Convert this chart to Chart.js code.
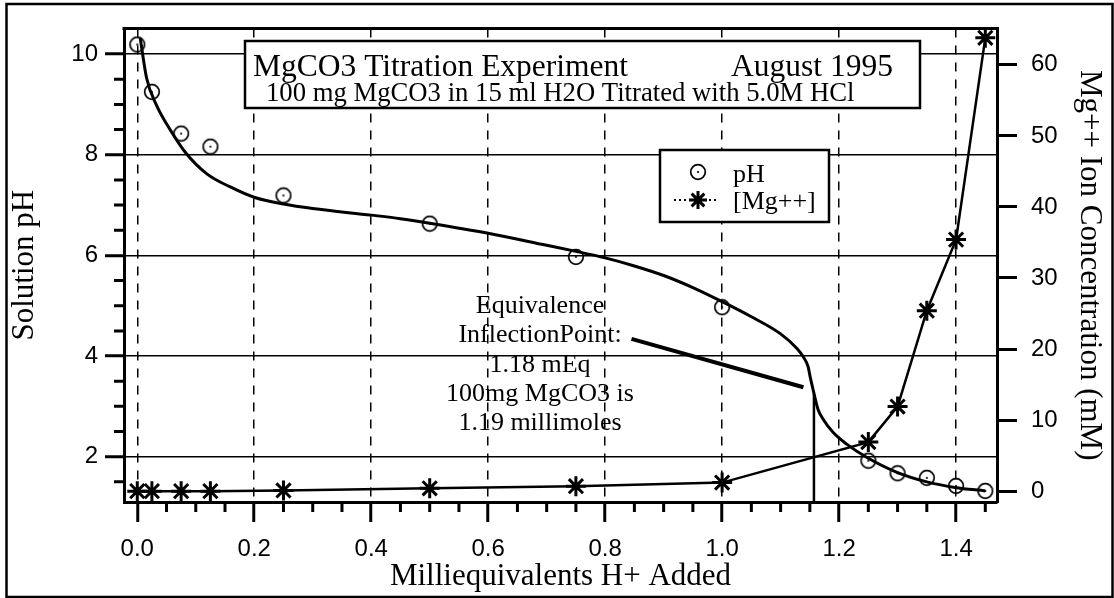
<!DOCTYPE html>
<html>
<head>
<meta charset="utf-8">
<script src="https://cdn.jsdelivr.net/npm/chart.js@4.4.0/dist/chart.umd.min.js"></script>
<style>
  html, body { margin: 0; padding: 0; background: #fff; }
  #wrap { width: 1114px; height: 598px; }
</style>
</head>
<body>
<div id="wrap"><canvas id="chart" width="1114" height="598"></canvas></div>
<script>
// measured pH (circles)
const phX = [0, 0.025, 0.075, 0.125, 0.25, 0.5, 0.75, 1.0, 1.25, 1.3, 1.35, 1.4, 1.45];
const phY = [10.19, 9.25, 8.42, 8.16, 7.19, 6.63, 5.97, 4.97, 1.92, 1.67, 1.58, 1.42, 1.32];

// measured [Mg++] in mM (stars)
const mgX = [0, 0.025, 0.075, 0.125, 0.25, 0.5, 0.75, 1.0, 1.25, 1.3, 1.35, 1.4, 1.45];
const mgY = [0, 0, 0, 0, 0.1, 0.4, 0.7, 1.2, 6.9, 11.9, 25.4, 35.4, 63.8];

// smooth titration curve
const fitX = [0.005, 0.016, 0.033, 0.056, 0.082, 0.119, 0.159, 0.201, 0.25, 0.30, 0.40, 0.45, 0.50,
              0.60, 0.70, 0.75, 0.80, 0.85, 0.90, 0.95, 1.00, 1.05, 1.10, 1.128, 1.139, 1.147, 1.151,
              1.155, 1.159, 1.164, 1.173, 1.19, 1.213, 1.247, 1.299, 1.35, 1.398, 1.45];
const fitY = [10.32, 9.52, 8.98, 8.50, 8.05, 7.62, 7.36, 7.15, 7.02, 6.93, 6.80, 6.73, 6.64,
              6.44, 6.20, 6.08, 5.95, 5.79, 5.60, 5.36, 5.08, 4.78, 4.44, 4.15, 3.98, 3.79, 3.56,
              3.36, 3.16, 2.94, 2.74, 2.48, 2.25, 1.99, 1.69, 1.50, 1.39, 1.32];

// equivalence marker and the annotation pointer
const inflectX = [1.157, 1.157];
const inflectY = [3.24, 1.10];
const pointerX = [0.845, 1.139];
const pointerY = [4.34, 3.38];

// axes
const xTicks = [0, 0.2, 0.4, 0.6, 0.8, 1.0, 1.2, 1.4];
const xMinorTicks = [0.05, 0.1, 0.15, 0.25, 0.3, 0.35, 0.45, 0.5, 0.55, 0.65, 0.7, 0.75,
                     0.85, 0.9, 0.95, 1.05, 1.1, 1.15, 1.25, 1.3, 1.35, 1.45];
const phTicks = [2, 4, 6, 8, 10];
const phMinorTicks = [1.5, 2.5, 3, 3.5, 4.5, 5, 5.5, 6.5, 7, 7.5, 8.5, 9, 9.5];
const mgTicks = [0, 10, 20, 30, 40, 50, 60];

const noteLines = ['Equivalence', 'InflectionPoint:', '1.18 mEq', '100mg MgCO3 is', '1.19 millimoles'];

const zip = (xs, ys) => xs.map((x, i) => ({ x: x, y: ys[i] }));

// open circle with a dot in the middle
function makeRing() {
    const c = document.createElement('canvas');
    c.width = 18; c.height = 18;
    const g = c.getContext('2d');
    g.strokeStyle = '#000';
    g.lineWidth = 1.7;
    g.beginPath(); g.arc(9, 9, 7.3, 0, Math.PI * 2); g.stroke();
    g.fillStyle = '#000';
    g.beginPath(); g.arc(9, 9, 1.1, 0, Math.PI * 2); g.fill();
    return c;
}
const ring = makeRing();

function drawStar(ctx, x, y, r) {
    ctx.beginPath();
    for (let k = 0; k < 4; k++) {
        const t = k * Math.PI / 4;
        ctx.moveTo(x - Math.cos(t) * r, y - Math.sin(t) * r);
        ctx.lineTo(x + Math.cos(t) * r, y + Math.sin(t) * r);
    }
    ctx.stroke();
}

const serif = '"Liberation Serif", "Times New Roman", serif';

const decor = {
    id: 'decor',
    beforeDraw(chart) {
        const ctx = chart.ctx;
        ctx.save();
        ctx.fillStyle = '#fff';
        ctx.fillRect(0, 0, chart.width, chart.height);
        ctx.restore();
    },
    afterDraw(chart) {
        const { ctx, chartArea: a, scales } = chart;
        ctx.save();
        ctx.strokeStyle = '#000';
        ctx.fillStyle = '#000';

        // minor ticks
        ctx.lineWidth = 3;
        ctx.beginPath();
        xMinorTicks.forEach(v => {
            const p = scales.x.getPixelForValue(v);
            ctx.moveTo(p, a.bottom); ctx.lineTo(p, a.bottom + 10);
        });
        phMinorTicks.forEach(v => {
            const p = scales.yPh.getPixelForValue(v);
            ctx.moveTo(a.left, p); ctx.lineTo(a.left - 10, p);
        });
        ctx.stroke();

        // top of the frame
        ctx.beginPath();
        ctx.moveTo(a.left - 1.5, a.top);
        ctx.lineTo(a.right + 1.5, a.top);
        ctx.stroke();

        // title box
        ctx.lineWidth = 2.5;
        ctx.fillStyle = '#fff';
        ctx.fillRect(245, 41, 675, 67);
        ctx.strokeRect(245, 41, 675, 67);
        ctx.fillStyle = '#000';
        ctx.textBaseline = 'alphabetic';
        ctx.font = '31.5px ' + serif;
        ctx.textAlign = 'left';
        ctx.fillText('MgCO3 Titration Experiment', 253, 76);
        ctx.textAlign = 'right';
        ctx.fillText('August 1995', 893, 76);
        ctx.font = '26.7px ' + serif;
        ctx.textAlign = 'left';
        ctx.fillText('100 mg MgCO3 in 15 ml H2O Titrated with 5.0M HCl', 266, 101);

        // legend
        ctx.fillStyle = '#fff';
        ctx.fillRect(660, 150, 169, 72);
        ctx.strokeRect(660, 150, 169, 72);
        ctx.fillStyle = '#000';
        ctx.drawImage(ring, 698 - 9, 172 - 9);
        ctx.lineWidth = 2;
        ctx.setLineDash([2, 3]);
        ctx.beginPath(); ctx.moveTo(674, 200); ctx.lineTo(718, 200); ctx.stroke();
        ctx.setLineDash([]);
        ctx.lineWidth = 3;
        drawStar(ctx, 698, 200, 9);
        ctx.font = '26px ' + serif;
        ctx.fillText('pH', 733, 182);
        ctx.fillText('[Mg++]', 733, 209);

        // equivalence note
        ctx.font = '26px ' + serif;
        ctx.textAlign = 'center';
        noteLines.forEach((t, i) => ctx.fillText(t, 540, 313 + i * 29.3));

        // outer frame
        ctx.lineWidth = 2.5;
        ctx.strokeRect(6.5, 4, 1106, 593);
        ctx.restore();
    }
};

Chart.defaults.color = '#000';
Chart.defaults.font.family = '"Liberation Sans", Arial, sans-serif';

new Chart(document.getElementById('chart'), {
    type: 'scatter',
    data: {
        datasets: [
            {
                label: 'pH',
                data: zip(phX, phY),
                yAxisID: 'yPh',
                showLine: false,
                pointStyle: ring,
                pointRadius: 8,
                order: 0,
                clip: false
            },
            {
                label: '[Mg++]',
                data: zip(mgX, mgY),
                yAxisID: 'yMg',
                showLine: true,
                borderColor: '#000',
                borderWidth: 2.5,
                pointStyle: 'star',
                pointRadius: 10,
                pointBorderWidth: 3,
                pointBorderColor: '#000',
                pointBackgroundColor: '#000',
                order: 1,
                clip: false
            },
            {
                label: 'fit',
                data: zip(fitX, fitY),
                yAxisID: 'yPh',
                showLine: true,
                borderColor: '#000',
                borderWidth: 3,
                pointRadius: 0,
                cubicInterpolationMode: 'monotone',
                order: 2
            },
            {
                label: 'inflection',
                data: zip(inflectX, inflectY),
                yAxisID: 'yPh',
                showLine: true,
                borderColor: '#000',
                borderWidth: 2.5,
                pointRadius: 0,
                order: 3
            },
            {
                label: 'pointer',
                data: zip(pointerX, pointerY),
                yAxisID: 'yPh',
                showLine: true,
                borderColor: '#000',
                borderWidth: 4,
                pointRadius: 0,
                order: 4
            }
        ]
    },
    options: {
        responsive: false,
        animation: false,
        devicePixelRatio: 1,
        layout: { padding: { top: 24, left: 0, right: 0, bottom: 0 } },
        plugins: { legend: { display: false }, tooltip: { enabled: false } },
        events: [],
        scales: {
            x: {
                type: 'linear',
                position: 'bottom',
                min: -0.0227,
                max: 1.470,
                afterBuildTicks: s => { s.ticks = xTicks.map(v => ({ value: v })); },
                afterFit: s => { s.height = 96; },
                ticks: {
                    callback: v => v.toFixed(1),
                    font: { size: 24 },
                    padding: 13,
                    maxRotation: 0,
                    autoSkip: false
                },
                grid: {
                    color: '#000',
                    lineWidth: 1.5,
                    tickLength: 20,
                    tickWidth: 3,
                    tickColor: '#000',
                    tickBorderDash: []
                },
                border: { color: '#000', width: 3, dash: [9, 8] },
                title: {
                    display: true,
                    text: 'Milliequivalents H+ Added',
                    font: { family: serif, size: 31 },
                    padding: { top: 0, bottom: 3 }
                }
            },
            yPh: {
                type: 'linear',
                position: 'left',
                min: 1.10,
                max: 10.51,
                afterBuildTicks: s => { s.ticks = phTicks.map(v => ({ value: v })); },
                afterFit: s => { s.width = 124; },
                ticks: { font: { size: 24 }, padding: 7 },
                grid: {
                    color: '#000',
                    lineWidth: 1.5,
                    tickLength: 19,
                    tickWidth: 3,
                    tickColor: '#000'
                },
                border: { color: '#000', width: 3 },
                title: {
                    display: true,
                    text: 'Solution pH',
                    font: { family: serif, size: 31 },
                    padding: { top: 6, bottom: 0 }
                }
            },
            yMg: {
                type: 'linear',
                position: 'right',
                min: -1.53,
                max: 65.13,
                afterBuildTicks: s => { s.ticks = mgTicks.map(v => ({ value: v })); },
                afterFit: s => { s.width = 117; },
                ticks: { font: { size: 24 }, padding: 14 },
                grid: {
                    drawOnChartArea: false,
                    tickLength: 20,
                    tickWidth: 3,
                    tickColor: '#000'
                },
                border: { color: '#000', width: 3 },
                title: {
                    display: true,
                    text: 'Mg++ Ion Concentration (mM)',
                    font: { family: serif, size: 31 },
                    padding: { top: 6, bottom: 0 }
                }
            }
        }
    },
    plugins: [decor]
});
</script>
</body>
</html>
